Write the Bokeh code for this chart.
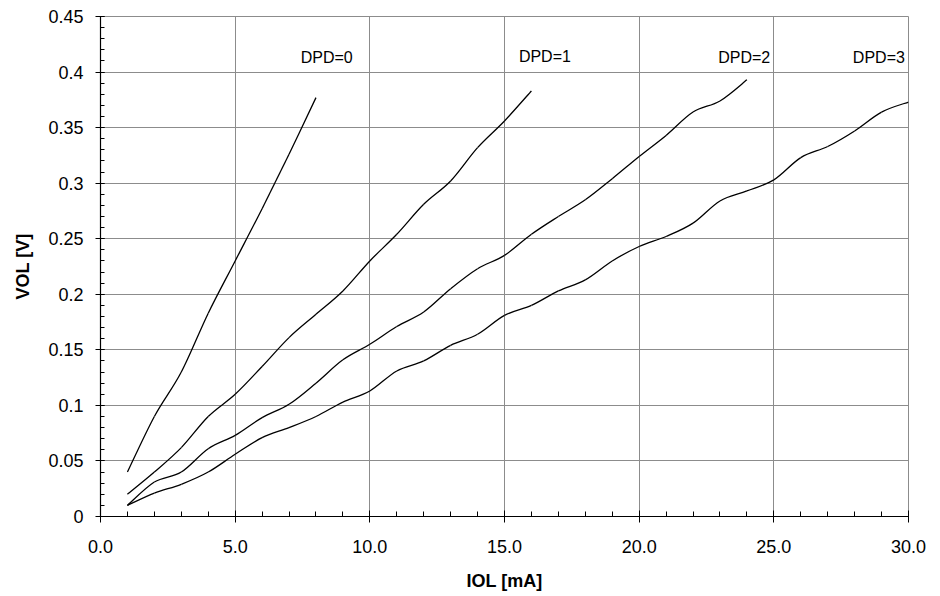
from bokeh.plotting import figure
from bokeh.models import FixedTicker, Range1d
from bokeh.core.properties import value
from bokeh.embed import file_html
from bokeh.resources import INLINE

# ---- data ----
iol_dpd0 = [1, 2, 3, 4, 5, 6, 7, 8]
vol_dpd0 = [0.040, 0.090, 0.130, 0.183, 0.230, 0.277, 0.326, 0.377]

iol_dpd1 = list(range(1, 17))
vol_dpd1 = [0.020, 0.040, 0.062, 0.090, 0.110, 0.135, 0.161, 0.182,
            0.203, 0.230, 0.254, 0.281, 0.302, 0.332, 0.356, 0.383]

iol_dpd2 = list(range(1, 25))
vol_dpd2 = [0.010, 0.031, 0.040, 0.061, 0.073, 0.089, 0.101, 0.120,
            0.141, 0.155, 0.171, 0.184, 0.205, 0.223, 0.235, 0.254,
            0.270, 0.285, 0.304, 0.324, 0.343, 0.364, 0.374, 0.393]

iol_dpd3 = list(range(1, 31))
vol_dpd3 = [0.010, 0.021, 0.029, 0.040, 0.056, 0.071, 0.080, 0.090,
            0.103, 0.113, 0.131, 0.140, 0.154, 0.164, 0.181, 0.190,
            0.203, 0.213, 0.230, 0.243, 0.252, 0.264, 0.284, 0.293,
            0.303, 0.323, 0.333, 0.347, 0.364, 0.373]

series = [(iol_dpd0, vol_dpd0), (iol_dpd1, vol_dpd1),
          (iol_dpd2, vol_dpd2), (iol_dpd3, vol_dpd3)]

labels = ["DPD=0", "DPD=1", "DPD=2", "DPD=3"]
label_x = [8.4, 16.5, 23.9, 28.9]
label_y = [0.413, 0.414, 0.413, 0.413]

x_ticks = [0, 5, 10, 15, 20, 25, 30]
x_tick_labels = ["0.0", "5.0", "10.0", "15.0", "20.0", "25.0", "30.0"]
y_ticks = [0, 0.05, 0.1, 0.15, 0.2, 0.25, 0.3, 0.35, 0.4, 0.45]
y_tick_labels = ["0", "0.05", "0.1", "0.15", "0.2", "0.25", "0.3", "0.35", "0.4", "0.45"]
x_minor = list(range(0, 31))
y_minor = [i / 100 for i in range(0, 46)]

FONT = "Liberation Sans"

p = figure(width=932, height=596, output_backend="svg", toolbar_location=None,
           x_range=Range1d(0, 30), y_range=Range1d(0, 0.45),
           min_border_left=100, min_border_right=24, min_border_top=16,
           min_border_bottom=80)
p.background_fill_color = "white"
p.border_fill_color = "white"
p.outline_line_color = "#8c8c8c"
p.outline_line_width = 1


def smooth_segments(xs, ys, t=1.0 / 6.0):
    """Bezier control points (Catmull-Rom style smoothing, like a spreadsheet
    'smoothed line') for the segments between consecutive data points."""
    n = len(xs)
    x0, y0, x1, y1, cx0, cy0, cx1, cy1 = ([] for _ in range(8))
    for i in range(n - 1):
        xp, yp = (xs[i - 1], ys[i - 1]) if i > 0 else (xs[i], ys[i])
        xn, yn = (xs[i + 2], ys[i + 2]) if i + 2 < n else (xs[i + 1], ys[i + 1])
        x0.append(xs[i]); y0.append(ys[i])
        x1.append(xs[i + 1]); y1.append(ys[i + 1])
        cx0.append(xs[i] + (xs[i + 1] - xp) * t)
        cy0.append(ys[i] + (ys[i + 1] - yp) * t)
        cx1.append(xs[i + 1] - (xn - xs[i]) * t)
        cy1.append(ys[i + 1] - (yn - ys[i]) * t)
    return dict(x0=x0, y0=y0, x1=x1, y1=y1, cx0=cx0, cy0=cy0, cx1=cx1, cy1=cy1)


for xs, ys in series:
    p.bezier(line_color="black", line_width=1.3, **smooth_segments(xs, ys))

p.text(x=label_x, y=label_y, text=labels, text_align="center",
       text_baseline="middle", text_font=value(FONT), text_font_size="16px",
       text_color="black")

# axes
p.xaxis.ticker = FixedTicker(ticks=x_ticks, minor_ticks=x_minor)
p.yaxis.ticker = FixedTicker(ticks=y_ticks, minor_ticks=y_minor)
xo = {float(t): s for t, s in zip(x_ticks, x_tick_labels)}
xo.update({int(t): s for t, s in zip(x_ticks, x_tick_labels)})
p.xaxis.major_label_overrides = xo
p.yaxis.major_label_overrides = {float(t): s for t, s in zip(y_ticks, y_tick_labels)}

p.xaxis.axis_label = "IOL [mA]"
p.yaxis.axis_label = "VOL [V]"
for ax in (p.xaxis, p.yaxis):
    ax.axis_line_color = "black"
    ax.axis_line_width = 1.2
    ax.major_tick_line_color = "black"
    ax.minor_tick_line_color = "black"
    ax.major_label_text_font = FONT
    ax.major_label_text_font_size = "18px"
    ax.major_label_text_color = "black"
    ax.axis_label_text_font = FONT
    ax.axis_label_text_font_size = "18px"
    ax.axis_label_text_font_style = "bold"
    ax.axis_label_text_color = "black"

p.xaxis.major_tick_in = 6
p.xaxis.major_tick_out = 6
p.xaxis.minor_tick_in = 5
p.xaxis.minor_tick_out = 0
p.xaxis.major_label_standoff = 17
p.xaxis.axis_label_standoff = 15

p.yaxis.major_tick_in = 4
p.yaxis.major_tick_out = 5
p.yaxis.minor_tick_in = 4
p.yaxis.minor_tick_out = 0
p.yaxis.major_label_standoff = 12
p.yaxis.axis_label_standoff = 12

p.xgrid.ticker = FixedTicker(ticks=x_ticks)
p.ygrid.ticker = FixedTicker(ticks=y_ticks)
p.xgrid.grid_line_color = "#8c8c8c"
p.ygrid.grid_line_color = "#8c8c8c"
p.xgrid.grid_line_width = 1
p.ygrid.grid_line_width = 1

open("out.html", "w").write(file_html(p, INLINE))
